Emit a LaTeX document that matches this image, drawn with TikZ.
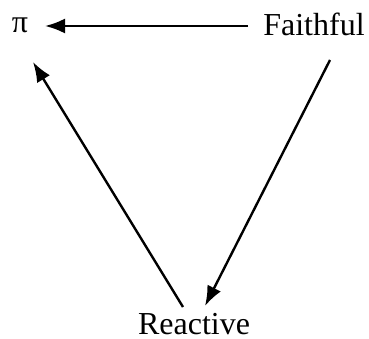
\documentclass[tikz,border=0pt]{standalone}
\usepackage{fontspec}
\setmainfont{Liberation Serif}
\usetikzlibrary{arrows.meta}
\begin{document}
\begin{tikzpicture}[x=1pt,y=1pt,
  lbl/.style={inner sep=0pt,anchor=base,font=\fontsize{32}{36}\selectfont},
  arr/.style={line width=2.4pt,-{Latex[length=20pt,width=15pt]}}]
\useasboundingbox (0,0) rectangle (369,338);
\node[lbl] (pi) at (20,305) {π};
\node[lbl] (F) at (314,302) {Faithful};
\node[lbl] (R) at (194,4) {Reactive};
\draw[arr] ([shift={(-66pt,10pt)}]F.base) -- ([shift={(25pt,7pt)}]pi.base);
\draw[arr] ([shift={(16pt,-24pt)}]F.base) -- ([shift={(11pt,28pt)}]R.base);
\draw[arr] ([shift={(-11pt,27pt)}]R.base) -- ([shift={(13pt,-29pt)}]pi.base);
\end{tikzpicture}
\end{document}
